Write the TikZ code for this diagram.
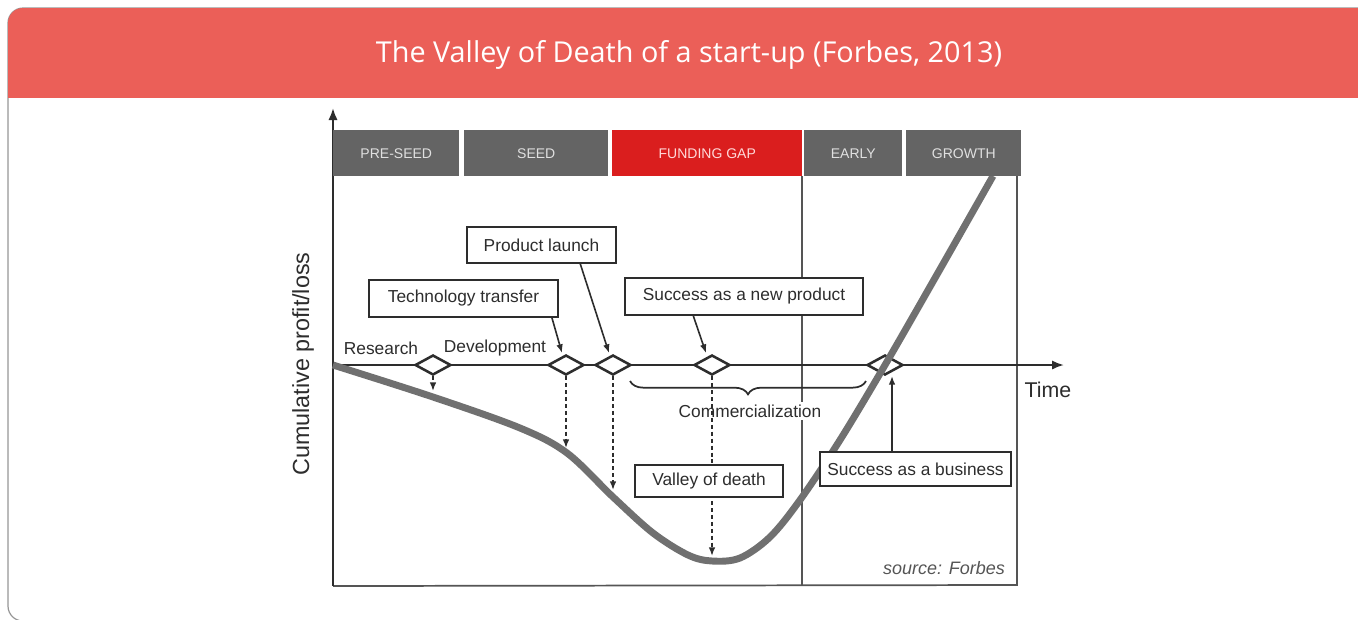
\documentclass[tikz,border=0pt]{standalone}
\usepackage{fontspec}
\setmainfont{Liberation Sans}
\newfontfamily\titlefont{Open Sans}
\usetikzlibrary{arrows.meta,shapes.geometric,decorations.pathreplacing,calc}

\definecolor{headerred}{RGB}{235,95,88}
\definecolor{bargray}{RGB}{100,100,100}
\definecolor{gapred}{RGB}{218,30,30}
\definecolor{ink}{RGB}{45,45,45}
\definecolor{curvegray}{RGB}{112,112,112}
\definecolor{framegray}{RGB}{85,85,85}
\definecolor{cardline}{RGB}{150,150,150}

\begin{document}
\begin{tikzpicture}[x=0.75pt,y=-0.75pt,
  phase/.style={fill=bargray,text=white!88!black,minimum height=34.5pt,
    inner sep=0pt,anchor=north west,font=\fontsize{10.5}{12}\selectfont},
  labelbox/.style={draw=ink,line width=1.5pt,fill=white,text=ink,inner sep=0pt,
    font=\fontsize{13}{15}\selectfont},
  milestone/.style={diamond,draw=ink,line width=1.9pt,fill=white,inner sep=0pt,
    minimum width=27pt,minimum height=15pt},
  pointer/.style={draw=ink,line width=1.2pt,-{Latex[length=6.5pt,width=5pt]}},
  dropline/.style={draw=ink,line width=1.2pt,dash pattern=on 3pt off 2.2pt,
    -{Latex[length=6.5pt,width=5pt]}},
  axis/.style={draw=ink,line width=1.7pt,-{Latex[length=9pt,width=7pt]}},
  frameline/.style={draw=framegray,line width=1.3pt},
  plain/.style={text=ink,inner sep=1pt,font=\fontsize{13}{15}\selectfont}
]
\useasboundingbox (0,0) rectangle (1358,619);

% card and header band
\begin{scope}
  \clip (0,0) rectangle (1358,619);
  \draw[cardline,fill=white,line width=0.9pt,rounded corners=11.25pt]
    (8,8) rectangle (1400,621);
\end{scope}
\begin{scope}
  \clip (0,0) rectangle (1358,97);
  \fill[headerred,rounded corners=11.25pt] (8,8) rectangle (1400,140);
\end{scope}
\node[font=\titlefont\fontsize{21.6}{26}\selectfont,text=white] (title) at (689,55)
  {The Valley of Death of a start-up (Forbes, 2013)};

% frame of the chart
\coordinate (origin) at (333,586);
\coordinate (ytop) at (333,108);
\coordinate (frameBR) at (1017,585);
\coordinate (frameTR) at (1017,176);
\coordinate (divTop) at (802,176);
\coordinate (divBot) at (802,585);
\draw[frameline] (origin) -- (frameBR) -- (frameTR);
\draw[frameline] (divTop) -- (divBot);
\draw[axis] (origin) -- (ytop);

% time axis
\coordinate (tstart) at (333,365);
\coordinate (tend) at (1064,365);
\draw[axis] (tstart) -- (tend);

% milestones on the time axis
\node[milestone] (d1) at (433,365) {};
\node[milestone] (d2) at (566,365) {};
\node[milestone] (d3) at (613,365) {};
\node[milestone] (d4) at (712,365) {};
\node[milestone] (d5) at (885,365) {};

% commercialization brace and label
\coordinate (brL) at (630,381);
\coordinate (brR) at (866,381);
\draw[ink,line width=1.3pt,decorate,decoration={brace,amplitude=10pt,mirror}]
  (brL) -- (brR);
\node[plain,fill=white,inner sep=2pt] (comm) at (750,411) {Commercialization};

% dashed drops to the curve
\coordinate (e1) at (433,391);
\coordinate (e2) at (566,448);
\coordinate (e3) at (613,490);
\coordinate (e4) at (712,556);
\draw[dropline] (d1.south) -- (e1);
\draw[dropline] (d2.south) -- (e2);
\draw[dropline] (d3.south) -- (e3);
\draw[dropline] (d4.south) -- (e4);

% cumulative profit/loss curve
\draw[curvegray,line width=5.2pt] plot[smooth,tension=0.55] coordinates
  {(333,365) (433,397) (520,428) (567,453) (613,497) (653,533) (688,555) (712,561)
   (740,558) (770,537) (800,500) (840,440) (885,365) (935,278) (993,176)};

% funding phases
\node[phase,minimum width=94.5pt] (pre) at (333,130) {PRE-SEED};
\node[phase,minimum width=108pt] (seed) at (464,130) {SEED};
\node[phase,fill=gapred,text=white!85!red,minimum width=142.5pt] (gap) at (612,130) {FUNDING GAP};
\node[phase,minimum width=73.5pt] (early) at (804,130) {EARLY};
\node[phase,minimum width=86.25pt] (growth) at (906,130) {GROWTH};

% annotation boxes
\node[labelbox,minimum width=111.75pt,minimum height=27pt] (pl) at (541.5,245) {Product launch};
\node[labelbox,minimum width=141.75pt,minimum height=27.75pt] (tt) at (463.5,298.5) {Technology transfer};
\node[labelbox,minimum width=178.5pt,minimum height=27.75pt] (snp) at (744,296.5) {Success as a new product};
\node[labelbox,minimum width=111pt,minimum height=24pt] (vod) at (709,481) {Valley of death};
\node[labelbox,minimum width=143.25pt,minimum height=25.5pt] (sb) at (915.5,469) {Success as a business};

% pointers from boxes to milestones
\coordinate (ttfoot) at (552,318);
\coordinate (plfoot) at (580,263);
\coordinate (snpfoot) at (693,315);
\coordinate (sbfoot) at (892,452);
\coordinate (d2tip) at (562,353);
\coordinate (d3tip) at (609,353);
\coordinate (d4tip) at (706,353);
\coordinate (d5tip) at (892,376);
\draw[pointer] (ttfoot) -- (d2tip);
\draw[pointer] (plfoot) -- (d3tip);
\draw[pointer] (snpfoot) -- (d4tip);
\draw[pointer] (sbfoot) -- (d5tip);

% free labels
\node[plain] (research) at (381,348) {Research};
\node[plain] (develop) at (495,348) {Development};
\node[plain,font=\fontsize{16}{18}\selectfont] (time) at (1048,390) {Time};
\node[plain,rotate=90,font=\fontsize{17.5}{19}\selectfont] (ylab) at (303,364) {Cumulative profit/loss};
\node[plain,text=framegray,font=\fontsize{13.5}{15}\selectfont\itshape] (src) at (944,568) {source: Forbes};
\end{tikzpicture}
\end{document}
